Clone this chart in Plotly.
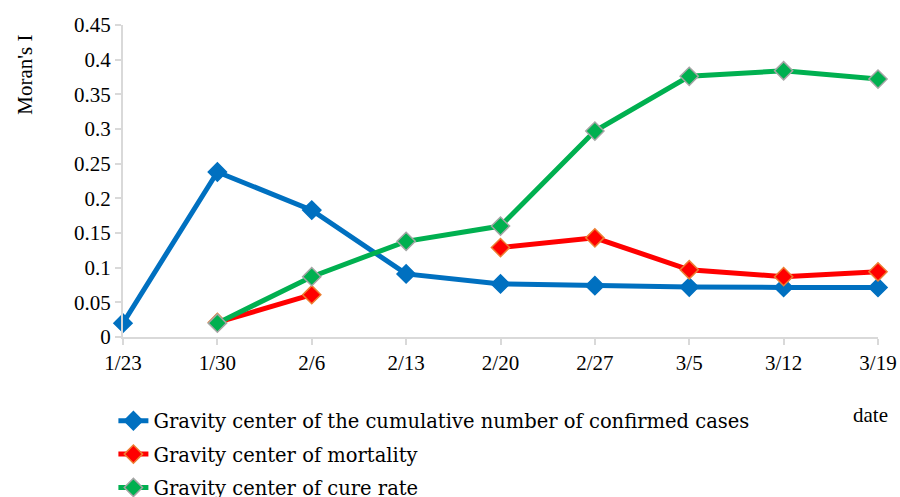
import plotly.graph_objects as go

dates = ["1/23", "1/30", "2/6", "2/13", "2/20", "2/27", "3/5", "3/12", "3/19"]
confirmed = [0.020, 0.238, 0.183, 0.091, 0.0765, 0.074, 0.072, 0.0715, 0.0715]
mortality = [None, 0.021, 0.061, None, 0.129, 0.143, 0.097, 0.087, 0.094]
cure = [None, 0.020, 0.087, 0.138, 0.160, 0.297, 0.376, 0.384, 0.372]
yticks = ["0", "0.05", "0.1", "0.15", "0.2", "0.25", "0.3", "0.35", "0.4", "0.45"]

names = ["Gravity center of the cumulative number of confirmed cases",
         "Gravity center of mortality",
         "Gravity center of cure rate"]

FONT = "Liberation Serif, Times New Roman, serif"
LFONT = "DejaVu Serif, serif"
fig = go.Figure()
specs = [
    (confirmed, "#0070C0", "#0070C0"),
    (mortality, "#FF0000", "#ED7D31"),
    (cure, "#00B050", "#A5A5A5"),
]
for i, (vals, col, edge) in enumerate(specs):
    fig.add_trace(go.Scatter(
        x=list(range(len(dates))), y=vals, name=names[i], mode="lines+markers",
        line=dict(color=col, width=5), connectgaps=False,
        marker=dict(symbol="diamond", size=14, color=col, line=dict(color=edge, width=1.5)),
        cliponaxis=False, legendgroup=f"g{i}"))

fig.update_layout(
    width=900, height=497, plot_bgcolor="white", paper_bgcolor="white",
    margin=dict(l=123, r=22, t=25, b=160, autoexpand=False),
    font=dict(family=FONT, size=21, color="#000000"),
    showlegend=True,
    legend=dict(orientation="v", xref="container", yref="container", x=0.126, y=0.192,
                xanchor="left", yanchor="top",
                font=dict(size=19.5, family=LFONT), tracegroupgap=5, bgcolor="rgba(0,0,0,0)"),
    xaxis=dict(range=[0, 8], tickmode="array", tickvals=list(range(len(dates))), ticktext=dates,
               showgrid=False, zeroline=False, showline=True, linecolor="#D9D9D9", linewidth=2,
               ticks="outside", ticklen=6, tickcolor="#D9D9D9", tickwidth=2,
               tickfont=dict(size=21, family=FONT)),
    yaxis=dict(range=[0, 0.45], tickmode="array", tickvals=[i * 0.05 for i in range(10)],
               ticktext=yticks,
               showgrid=False, zeroline=False, showline=True, linecolor="#D9D9D9", linewidth=2,
               ticks="outside", ticklen=6, tickcolor="#D9D9D9", tickwidth=2,
               tickfont=dict(size=21, family=FONT)),
)
fig.add_annotation(text="Moran's I", xref="paper", yref="paper", x=-0.13, y=0.84,
                   textangle=-90, showarrow=False, font=dict(size=21, family=FONT),
                   xanchor="center", yanchor="middle")
fig.add_annotation(text="date", xref="paper", yref="paper", x=1.016, y=-0.25,
                   showarrow=False, font=dict(size=21, family=FONT), xanchor="right", yanchor="middle")
fig.write_html("out.html", config={"displayModeBar": False},
               post_script="document.body.style.margin='0';")
